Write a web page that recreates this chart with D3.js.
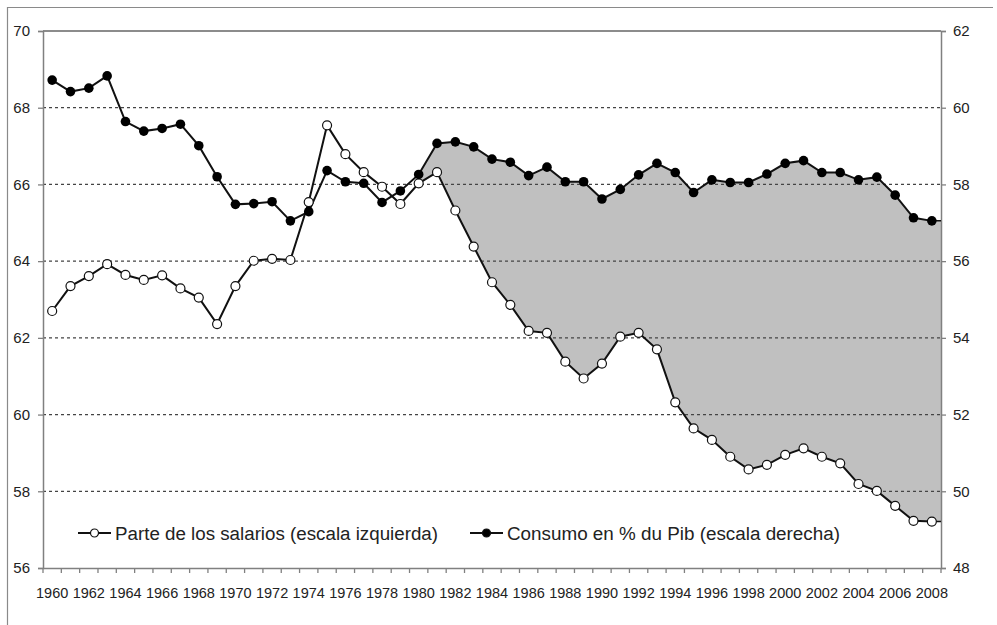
<!DOCTYPE html>
<html>
<head>
<meta charset="utf-8">
<script src="https://cdn.jsdelivr.net/npm/d3@7"></script>
<style>
  body { margin: 0; background: #fff; }
  svg text { font-family: "Liberation Sans", Arial, sans-serif; fill: #222; }
</style>
</head>
<body>
<svg id="chart" width="997" height="625"></svg>
<script>
// years on the x axis
const years = [1960, 1961, 1962, 1963, 1964, 1965, 1966, 1967, 1968, 1969,
  1970, 1971, 1972, 1973, 1974, 1975, 1976, 1977, 1978, 1979,
  1980, 1981, 1982, 1983, 1984, 1985, 1986, 1987, 1988, 1989,
  1990, 1991, 1992, 1993, 1994, 1995, 1996, 1997, 1998, 1999,
  2000, 2001, 2002, 2003, 2004, 2005, 2006, 2007, 2008];

// Parte de los salarios (left scale)
const salarios = [62.70, 63.35, 63.61, 63.92, 63.64, 63.51, 63.63, 63.29, 63.05, 62.36,
  63.35, 64.01, 64.06, 64.03, 65.54, 67.54, 66.79, 66.32, 65.94, 65.49,
  66.03, 66.32, 65.32, 64.38, 63.45, 62.86, 62.18, 62.13, 61.38, 60.94,
  61.33, 62.03, 62.13, 61.70, 60.32, 59.64, 59.34, 58.90, 58.57, 58.69,
  58.95, 59.12, 58.90, 58.73, 58.19, 58.01, 57.62, 57.23, 57.21];

// Consumo en % du Pib (right scale)
const consumo = [60.72, 60.42, 60.51, 60.83, 59.64, 59.39, 59.46, 59.57, 59.01, 58.20,
  57.48, 57.50, 57.55, 57.05, 57.29, 58.36, 58.07, 58.03, 57.53, 57.83,
  58.26, 59.07, 59.11, 58.98, 58.66, 58.58, 58.23, 58.45, 58.07, 58.07,
  57.62, 57.87, 58.25, 58.55, 58.31, 57.79, 58.12, 58.05, 58.05, 58.27,
  58.55, 58.62, 58.31, 58.31, 58.12, 58.19, 57.72, 57.13, 57.05];

const leftTicks = [56, 58, 60, 62, 64, 66, 68, 70];
const rightTicks = [48, 50, 52, 54, 56, 58, 60, 62];
const shadeFrom = 1980;

const svg = d3.select('#chart');
const margin = { top: 31, right: 56, bottom: 57, left: 43 };
const width = 997 - margin.left - margin.right;
const height = 625 - margin.top - margin.bottom;

// outer frame (only left and top edges are visible)
svg.append('path')
  .attr('d', 'M7.5,625 V7.5 H993')
  .attr('fill', 'none')
  .attr('stroke', '#8a8a8a')
  .attr('stroke-width', 1.2);

const g = svg.append('g').attr('transform', `translate(${margin.left},${margin.top})`);

const x = d3.scaleBand().domain(years).range([0, width]);
const xc = d => x(d) + x.bandwidth() / 2;
const yL = d3.scaleLinear().domain([56, 70]).range([height, 0]);
const yR = d3.scaleLinear().domain([48, 62]).range([height, 0]);

const data = years.map((yr, i) => ({ yr, s: salarios[i], c: consumo[i] }));

// shaded gap between the two series
const shaded = data.filter(d => d.yr >= shadeFrom).map(d => ({ px: xc(d.yr), s: d.s, c: d.c }));
const last = data[data.length - 1];
shaded.push({ px: width, s: last.s, c: last.c });

g.append('path')
  .datum(shaded)
  .attr('fill', '#c0c0c0')
  .attr('d', d3.area().x(d => d.px).y0(d => yL(d.s)).y1(d => yR(d.c)));

// dotted gridlines
g.append('g')
  .selectAll('line')
  .data(leftTicks.filter(t => t > 56 && t < 70))
  .enter().append('line')
  .attr('x1', 0).attr('x2', width)
  .attr('y1', d => yL(d)).attr('y2', d => yL(d))
  .attr('stroke', '#444')
  .attr('stroke-width', 1.3)
  .attr('stroke-dasharray', '3,3');

// plot top border
g.append('line')
  .attr('x1', 0).attr('x2', width).attr('y1', 0).attr('y2', 0)
  .attr('stroke', '#666').attr('stroke-width', 1.5);

// axes
const leftAxis = g.append('g').call(d3.axisLeft(yL).tickValues(leftTicks).tickSize(5).tickPadding(8));
const rightAxis = g.append('g').attr('transform', `translate(${width},0)`)
  .call(d3.axisRight(yR).tickValues(rightTicks).tickSize(5).tickPadding(7));
const bottomAxis = g.append('g').attr('transform', `translate(0,${height})`)
  .call(d3.axisBottom(x).tickValues([]).tickSizeOuter(0));

[leftAxis, rightAxis].forEach(a => {
  a.select('.domain').attr('stroke', '#808080').attr('stroke-width', 1.5);
  a.selectAll('.tick line').attr('stroke', '#808080').attr('stroke-width', 1.3);
  a.selectAll('.tick text').style('font-size', '15px').attr('fill', '#333').attr('font-family', null);
});
bottomAxis.select('.domain').attr('stroke', '#808080').attr('stroke-width', 1.5);

// year tick marks at band boundaries and labels every two years
const bounds = years.map(yr => x(yr)).concat([width]);
bottomAxis.selectAll('.yt')
  .data(bounds)
  .enter().append('line')
  .attr('x1', d => d).attr('x2', d => d)
  .attr('y1', 0).attr('y2', 5)
  .attr('stroke', '#808080').attr('stroke-width', 1.3);

bottomAxis.selectAll('.yl')
  .data(years.filter(yr => yr % 2 === 0))
  .enter().append('text')
  .attr('x', d => xc(d))
  .attr('y', 30)
  .attr('text-anchor', 'middle')
  .attr('fill', '#333')
  .style('font-size', '14.5px')
  .text(d => d);

// series lines
const lineS = d3.line().x(d => xc(d.yr)).y(d => yL(d.s));
const lineC = d3.line().x(d => xc(d.yr)).y(d => yR(d.c));

g.append('path').datum(data).attr('d', lineS)
  .attr('fill', 'none').attr('stroke', '#111').attr('stroke-width', 2);
g.append('path').datum(data).attr('d', lineC)
  .attr('fill', 'none').attr('stroke', '#111').attr('stroke-width', 2);

// short extension of the shaded edges to the right axis
g.append('path')
  .attr('d', `M${xc(last.yr)},${yL(last.s)}H${width}M${xc(last.yr)},${yR(last.c)}H${width}`)
  .attr('fill', 'none').attr('stroke', '#111').attr('stroke-width', 1.5);

// markers
g.selectAll('.ms')
  .data(data)
  .enter().append('circle')
  .attr('cx', d => xc(d.yr)).attr('cy', d => yL(d.s)).attr('r', 4.5)
  .attr('fill', '#fff').attr('stroke', '#111').attr('stroke-width', 1.2);
g.selectAll('.mc')
  .data(data)
  .enter().append('circle')
  .attr('cx', d => xc(d.yr)).attr('cy', d => yR(d.c)).attr('r', 4.8)
  .attr('fill', '#000');

// legend
const legend = svg.append('g').attr('transform', 'translate(0,533)');
const items = [
  { x: 78, label: 'Parte de los salarios (escala izquierda)', fill: '#fff', w: 323 },
  { x: 470, label: 'Consumo en % du Pib (escala derecha)', fill: '#000', w: 333 }
];
items.forEach(it => {
  legend.append('line')
    .attr('x1', it.x).attr('x2', it.x + 33).attr('y1', 0).attr('y2', 0)
    .attr('stroke', '#111').attr('stroke-width', 2);
  legend.append('circle')
    .attr('cx', it.x + 16.5).attr('cy', 0).attr('r', 4)
    .attr('fill', it.fill).attr('stroke', '#111').attr('stroke-width', 1.2);
  legend.append('text')
    .attr('x', it.x + 37).attr('y', 6.5)
    .style('font-size', '18px')
    .attr('textLength', it.w)
    .attr('lengthAdjust', 'spacingAndGlyphs')
    .text(it.label);
});
</script>
</body>
</html>
